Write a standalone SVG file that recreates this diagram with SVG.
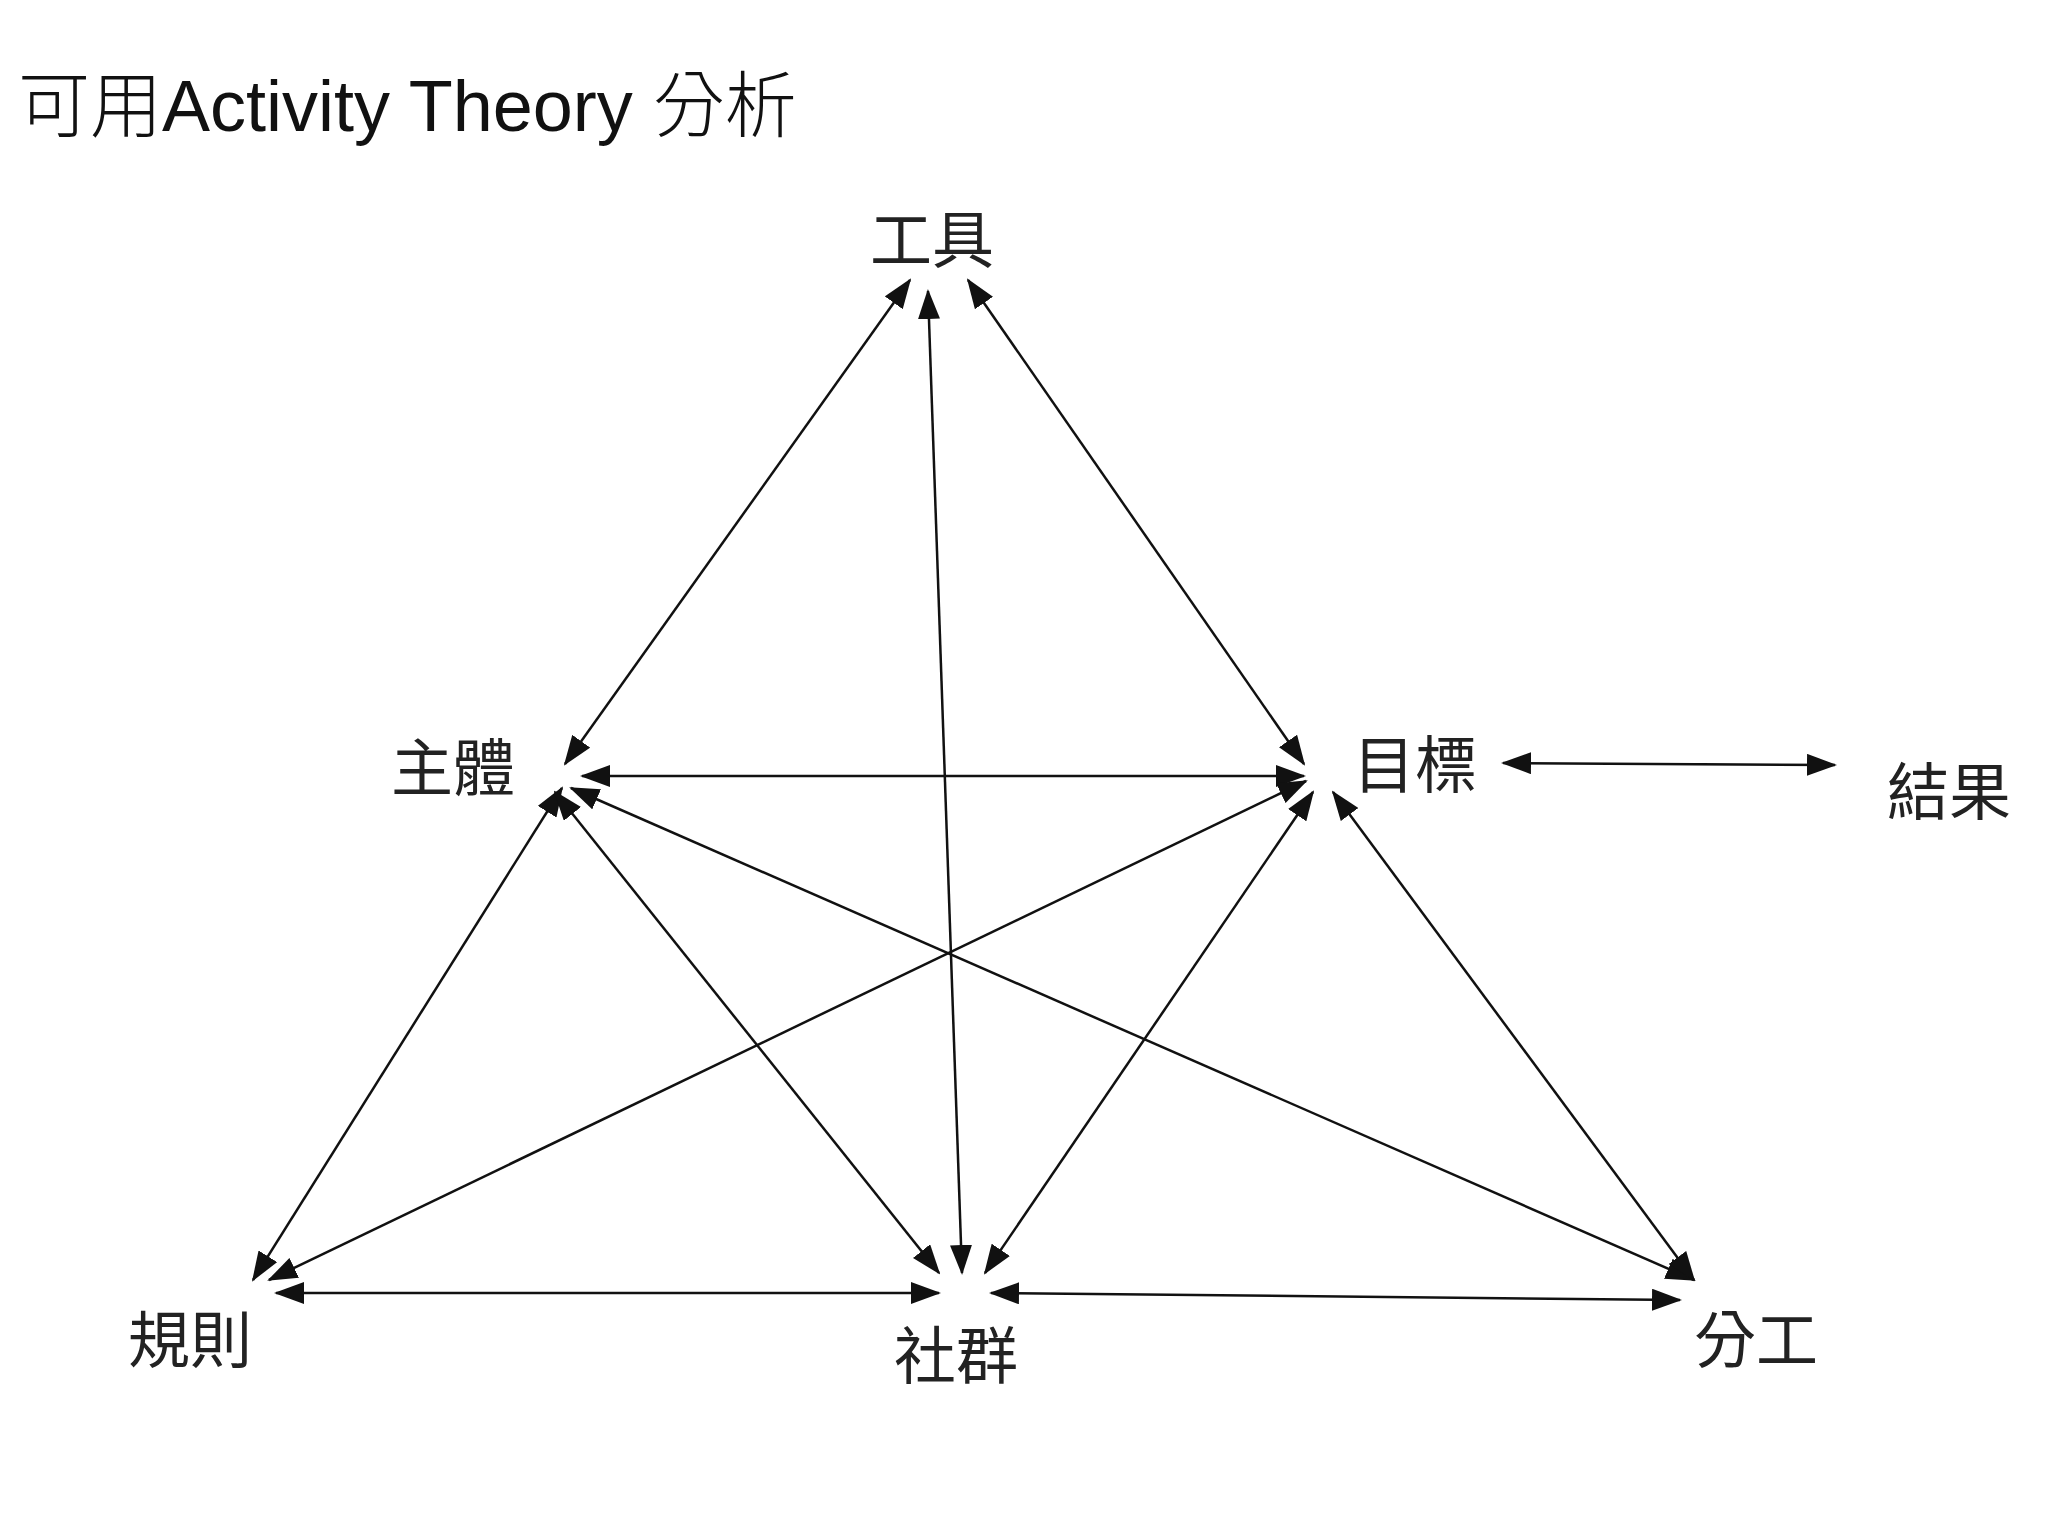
<svg xmlns="http://www.w3.org/2000/svg" width="2048" height="1536" viewBox="0 0 2048 1536">
<style>
.t{font-family:"Noto Sans CJK TC","Noto Sans CJK SC",sans-serif;font-size:62px;fill:#222;text-anchor:middle;dominant-baseline:central}
.h{font-family:"Liberation Sans","Noto Sans CJK TC",sans-serif;font-size:72px;fill:#111;font-weight:300}
.c line{stroke:#111;stroke-width:2.5;fill:none}
</style>
<defs>
<marker id="a" markerUnits="userSpaceOnUse" markerWidth="30" markerHeight="22" refX="28" refY="11" orient="auto-start-reverse" viewBox="0 0 30 22"><path d="M0,0 L30,11 L0,22 Z" fill="#111"/></marker>
</defs>
<text class="h" x="18" y="131">可用Activity Theory 分析</text>
<g id="n-tool"><text class="t" x="932" y="236">工具</text></g>
<g id="n-subject"><text class="t" x="453" y="764">主體</text></g>
<g id="n-object"><text class="t" x="1415" y="761">目標</text></g>
<g id="n-outcome"><text class="t" x="1949" y="788">結果</text></g>
<g id="n-rules"><text class="t" x="190" y="1336">規則</text></g>
<g id="n-community"><text class="t" x="956" y="1352">社群</text></g>
<g id="n-division"><text class="t" x="1756" y="1336">分工</text></g>
<g class="c" id="connectors" marker-start="url(#a)" marker-end="url(#a)">
<line x1="910" y1="280" x2="565" y2="764" marker-start="url(#a)" marker-end="url(#a)"/>
<line x1="968" y1="280" x2="1304" y2="764" marker-start="url(#a)" marker-end="url(#a)"/>
<line x1="928" y1="291" x2="962" y2="1273" marker-start="url(#a)" marker-end="url(#a)"/>
<line x1="582" y1="776" x2="1304" y2="776" marker-start="url(#a)" marker-end="url(#a)"/>
<line x1="562" y1="788" x2="253" y2="1280" marker-start="url(#a)" marker-end="url(#a)"/>
<line x1="555" y1="792" x2="939" y2="1273" marker-start="url(#a)" marker-end="url(#a)"/>
<line x1="571" y1="788" x2="1694" y2="1280" marker-start="url(#a)" marker-end="url(#a)"/>
<line x1="1306" y1="781" x2="269" y2="1280" marker-start="url(#a)" marker-end="url(#a)"/>
<line x1="1313" y1="792" x2="985" y2="1273" marker-start="url(#a)" marker-end="url(#a)"/>
<line x1="1333" y1="792" x2="1694" y2="1280" marker-start="url(#a)" marker-end="url(#a)"/>
<line x1="276" y1="1293" x2="939" y2="1293" marker-start="url(#a)" marker-end="url(#a)"/>
<line x1="991" y1="1293" x2="1680" y2="1300" marker-start="url(#a)" marker-end="url(#a)"/>
<line x1="1503" y1="763" x2="1835" y2="765" marker-end="url(#a)"/>
</g>
</svg>
